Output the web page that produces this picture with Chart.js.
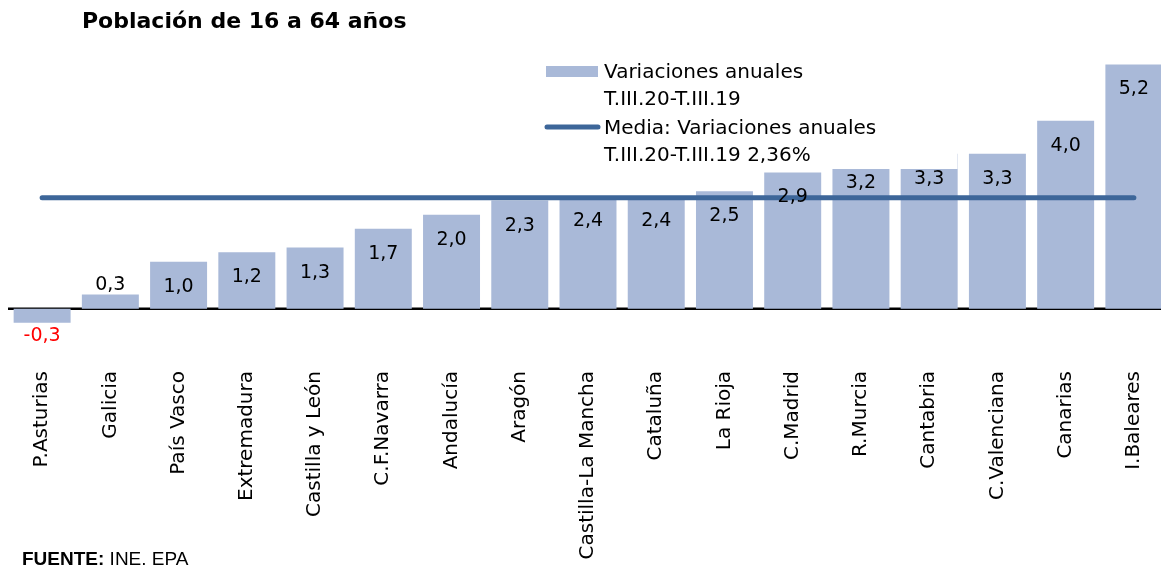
<!DOCTYPE html>
<html>
<head>
<meta charset="utf-8">
<script src="https://cdn.jsdelivr.net/npm/chart.js@4.4.1/dist/chart.umd.min.js"></script>
<style>
  html, body { margin:0; padding:0; background:#fff; overflow:hidden; }
  #wrap { position:relative; width:1161px; height:571px; overflow:hidden; }
  #c { position:absolute; left:0; top:0; }
  #title { position:absolute; left:82px; top:8px; font:bold 22px "DejaVu Sans", sans-serif; color:#000; white-space:nowrap; }
  #src { position:absolute; left:22px; top:548px; font:19px "Liberation Sans", sans-serif; color:#000; white-space:nowrap; }
</style>
</head>
<body>
<div id="wrap">
  <canvas id="c" width="1172" height="571"></canvas>
  <div id="title">Población de 16 a 64 años</div>
  <div id="src"><b>FUENTE:</b> INE. EPA</div>
</div>
<script>
const categories = ["P.Asturias","Galicia","País Vasco","Extremadura","Castilla y León","C.F.Navarra","Andalucía","Aragón","Castilla-La Mancha","Cataluña","La Rioja","C.Madrid","R.Murcia","Cantabria","C.Valenciana","Canarias","I.Baleares"];
const variaciones = [-0.3, 0.3, 1.0, 1.2, 1.3, 1.7, 2.0, 2.3, 2.4, 2.4, 2.5, 2.9, 3.2, 3.3, 3.3, 4.0, 5.2];
const media = [2.36, 2.36, 2.36, 2.36, 2.36, 2.36, 2.36, 2.36, 2.36, 2.36, 2.36, 2.36, 2.36, 2.36, 2.36, 2.36, 2.36];
const barLabel = ["Variaciones anuales", "T.III.20-T.III.19"];
const lineLabel = ["Media: Variaciones anuales", "T.III.20-T.III.19 2,36%"];

const BAR_COLOR = "#A9B9D8";
const LINE_COLOR = "#3D6699";
const FONT = '"DejaVu Sans", sans-serif';

function fmt(v) { return v.toFixed(1).replace('.', ','); }

const overlay = {
  id: 'overlay',
  beforeDatasetsDraw(chart) {
    const ctx = chart.ctx, ca = chart.chartArea, y0 = chart.scales.y.getPixelForValue(0);
    ctx.save();
    ctx.strokeStyle = '#000';
    ctx.lineWidth = 2.5;
    ctx.beginPath();
    ctx.moveTo(ca.left, y0);
    ctx.lineTo(ca.right + 10, y0);
    ctx.stroke();
    ctx.restore();
  },
  afterDatasetsDraw(chart) {
    const ctx = chart.ctx;
    ctx.save();
    // legend box (white, covers bars behind it)
    ctx.fillStyle = '#fff';
    ctx.fillRect(538, 52, 419.5, 117);
    ctx.fillStyle = BAR_COLOR;
    ctx.fillRect(546, 66, 52, 11);
    ctx.strokeStyle = LINE_COLOR;
    ctx.lineWidth = 5;
    ctx.lineCap = 'round';
    ctx.beginPath();
    ctx.moveTo(547, 127); ctx.lineTo(598, 127); ctx.stroke();
    ctx.fillStyle = '#000';
    ctx.font = '20px ' + FONT;
    ctx.textBaseline = 'middle';
    ctx.textAlign = 'left';
    ctx.fillText(barLabel[0], 604, 73);
    ctx.fillText(barLabel[1], 604, 100);
    ctx.fillText(lineLabel[0], 604, 129);
    ctx.fillText(lineLabel[1], 604, 156);

    // data labels
    const meta = chart.getDatasetMeta(0);
    ctx.font = '19px ' + FONT;
    ctx.textAlign = 'center';
    meta.data.forEach((el, i) => {
      const v = variaciones[i];
      let y, col = '#000';
      if (v < 0) { y = el.y + 13; col = '#FF0000'; }
      else if (el.base - el.y < 40) { y = el.y - 9; }
      else { y = el.y + 25; }
      ctx.fillStyle = col;
      ctx.fillText(fmt(v), el.x, y);
    });
    ctx.restore();
  }
};

new Chart(document.getElementById('c'), {
  data: {
    labels: categories,
    datasets: [
      { type: 'bar', label: barLabel.join(' '), data: variaciones, backgroundColor: BAR_COLOR,
        barPercentage: 0.835, categoryPercentage: 1, order: 2 },
      { type: 'line', label: lineLabel.join(' '), data: media, borderColor: LINE_COLOR, borderWidth: 5,
        borderCapStyle: 'round', pointRadius: 0, fill: false, order: 1 }
    ]
  },
  options: {
    responsive: false,
    animation: false,
    devicePixelRatio: 1,
    layout: { padding: { left: 8, right: 4, top: 55, bottom: 0 } },
    plugins: { legend: { display: false }, tooltip: { enabled: false }, title: { display: false } },
    scales: {
      y: { display: false, min: -1.2, max: 5.4 },
      x: {
        grid: { display: false }, border: { display: false },
        ticks: { autoSkip: false, minRotation: 90, maxRotation: 90, padding: -2, color: '#000',
                 font: { family: FONT, size: 20 } },
        afterFit(scale) { scale.height = 206; }
      }
    }
  },
  plugins: [overlay]
});
</script>
</body>
</html>
